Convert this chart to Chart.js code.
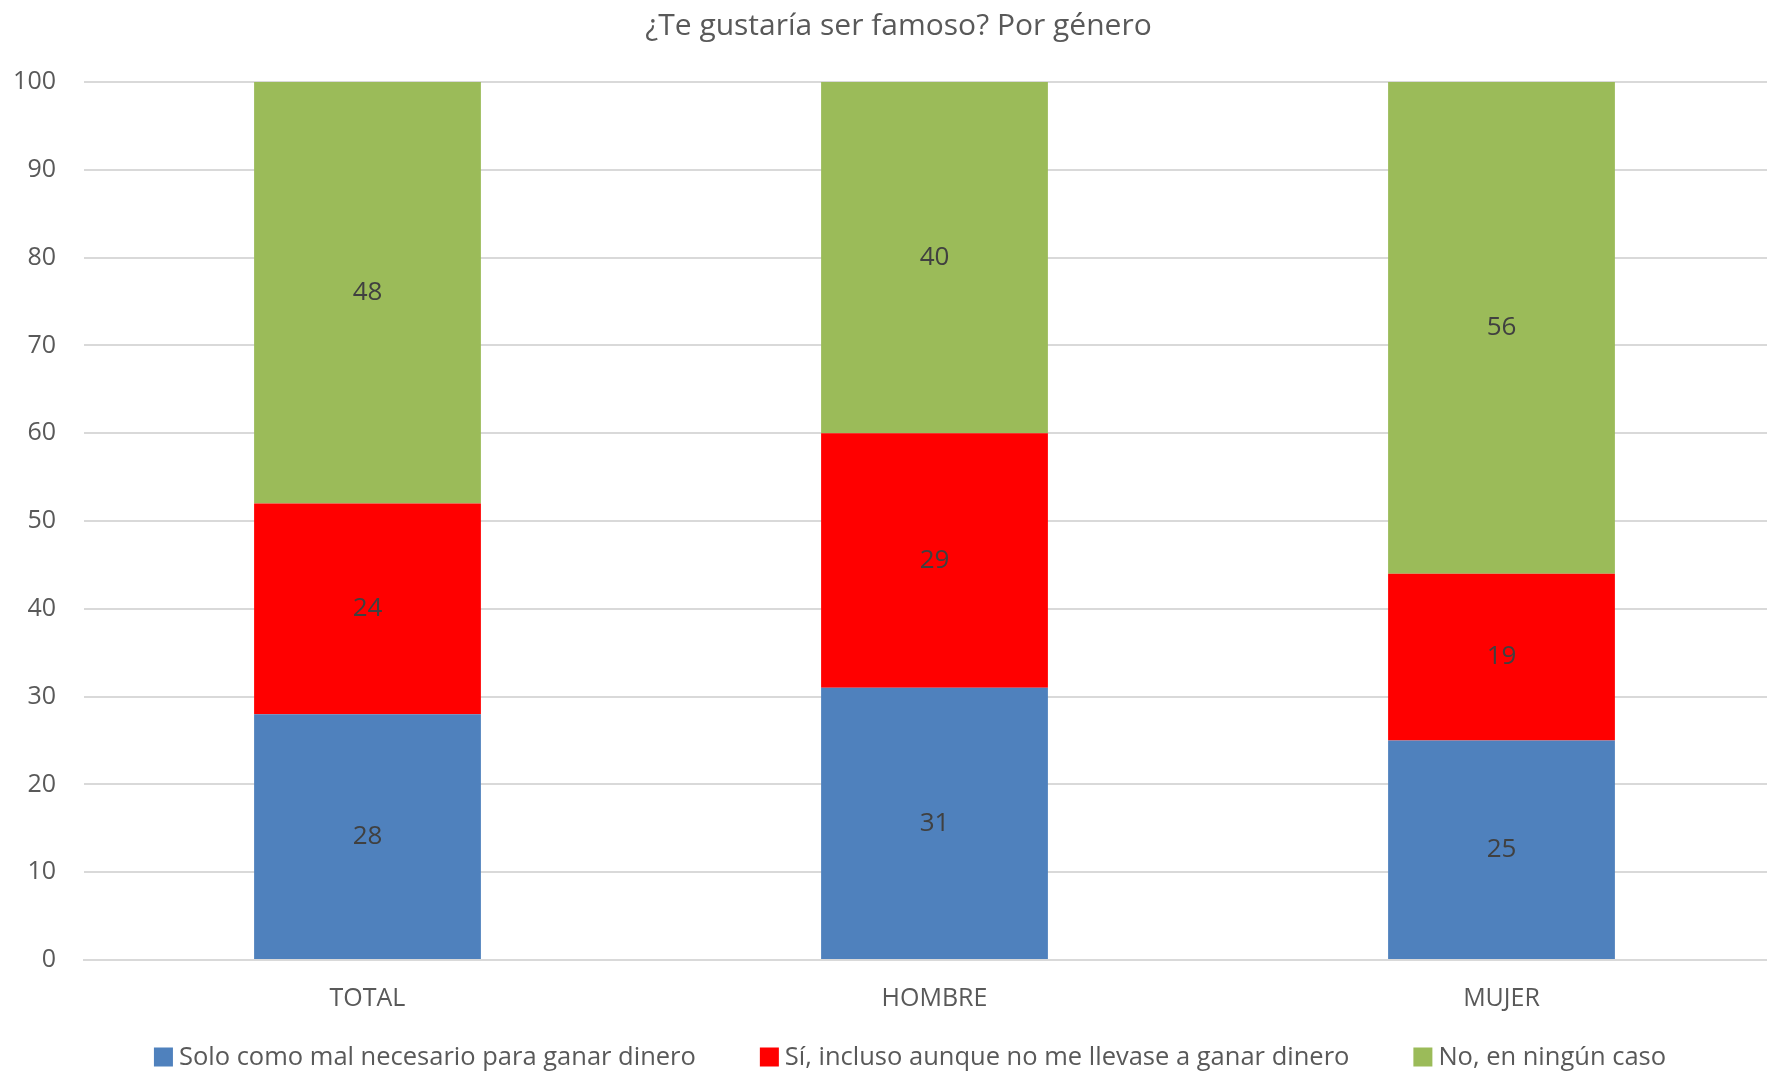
<!DOCTYPE html>
<html>
<head>
<meta charset="utf-8">
<script src="https://cdn.jsdelivr.net/npm/chart.js@4.4.1/dist/chart.umd.min.js"></script>
<style>
  html, body { margin: 0; padding: 0; background: #fff; overflow: hidden; }
  #wrap { width: 1767px; height: 1073px; overflow: hidden; }
</style>
</head>
<body>
<div id="wrap"><canvas id="myChart" width="1785" height="1073"></canvas></div>
<script>
const categories = ["TOTAL", "HOMBRE", "MUJER"];
const soloDinero = [28, 31, 25];
const siIncluso = [24, 29, 19];
const noNingun = [48, 40, 56];
const seriesNames = [
  "Solo como mal necesario para ganar dinero",
  "Sí, incluso aunque no me llevase a ganar dinero",
  "No, en ningún caso"
];
const yTicks = [0, 10, 20, 30, 40, 50, 60, 70, 80, 90, 100];

const FONT = "'Open Sans', sans-serif";
const GREY = "#595959";
const PAD_LEFT = 12;
const LEGEND_H = 40;

// valeurs au centre des barres
const barLabels = {
  id: "barLabels",
  afterDatasetsDraw(chart) {
    const ctx = chart.ctx;
    ctx.save();
    ctx.font = "26px " + FONT;
    ctx.fillStyle = "#404040";
    ctx.textAlign = "center";
    ctx.textBaseline = "middle";
    chart.data.datasets.forEach((ds, i) => {
      chart.getDatasetMeta(i).data.forEach((bar, j) => {
        ctx.fillText(ds.data[j], bar.x, (bar.y + bar.base) / 2);
      });
    });
    ctx.restore();
  }
};

// légende en bas, écartée comme dans Excel
const bottomLegend = {
  id: "bottomLegend",
  afterDraw(chart) {
    const ctx = chart.ctx;
    const box = 19, gapText = 6, gapItem = 64;
    ctx.save();
    ctx.font = "25.5px " + FONT;
    ctx.textBaseline = "middle";
    ctx.textAlign = "left";
    const items = chart.data.datasets.map(ds => ({
      text: ds.label, color: ds.backgroundColor, w: ctx.measureText(ds.label).width
    }));
    const total = items.reduce((s, it) => s + box + gapText + it.w, 0) + gapItem * (items.length - 1);
    let x = 910 - total / 2;
    const y = chart.height - LEGEND_H / 2 + 4;
    items.forEach(it => {
      ctx.fillStyle = it.color;
      ctx.fillRect(x, y - box / 2, box, box);
      x += box + gapText;
      ctx.fillStyle = GREY;
      ctx.fillText(it.text, x, y + 1);
      x += it.w + gapItem;
    });
    ctx.restore();
  }
};

const ctx = document.getElementById("myChart").getContext("2d");

new Chart(ctx, {
  type: "bar",
  data: {
    labels: categories,
    datasets: [
      { label: seriesNames[0], data: soloDinero, backgroundColor: "#4f81bd" },
      { label: seriesNames[1], data: siIncluso, backgroundColor: "#ff0000" },
      { label: seriesNames[2], data: noNingun, backgroundColor: "#9bbb59" }
    ]
  },
  options: {
    responsive: false,
    animation: false,
    devicePixelRatio: 1,
    categoryPercentage: 1,
    barPercentage: 0.4,
    layout: { padding: { left: PAD_LEFT, right: 0, top: 0, bottom: LEGEND_H } },
    plugins: {
      title: {
        display: true,
        text: "¿Te gustaría ser famoso? Por género",
        color: GREY,
        font: { family: FONT, size: 30, weight: "normal" },
        padding: { top: 8, bottom: 38 }
      },
      legend: { display: false },
      tooltip: { enabled: false }
    },
    scales: {
      x: {
        stacked: true,
        grid: { display: false, drawTicks: false },
        border: { color: "#d9d9d9", width: 2 },
        ticks: { color: GREY, font: { family: FONT, size: 25 }, padding: 24 },
        afterFit: s => { s.height = 1073 - 960 - LEGEND_H; }
      },
      y: {
        stacked: true,
        min: 0,
        max: 100,
        afterBuildTicks: s => { s.ticks = yTicks.map(v => ({ value: v })); },
        grid: { color: "#d9d9d9", lineWidth: 2, drawTicks: false },
        border: { display: false },
        ticks: { color: GREY, font: { family: FONT, size: 25 }, padding: 28 },
        afterFit: s => { s.width = 84 - PAD_LEFT; }
      }
    }
  },
  plugins: [barLabels, bottomLegend]
});
</script>
</body>
</html>
